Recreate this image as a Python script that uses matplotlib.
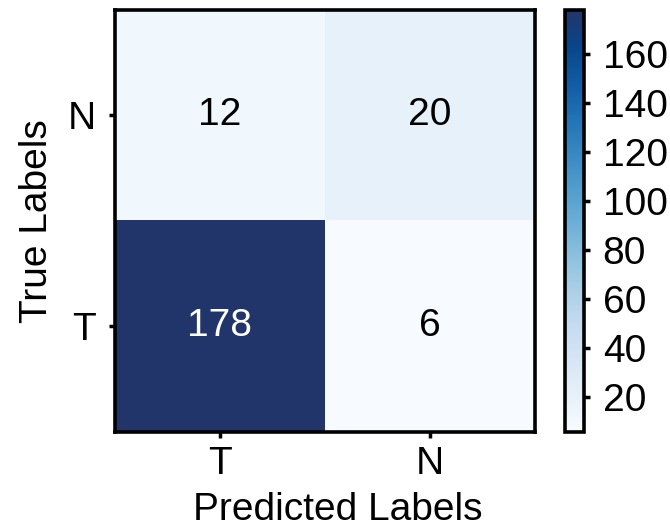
import numpy as np
import matplotlib
matplotlib.use("Agg")
import matplotlib.pyplot as plt
from matplotlib.colors import LinearSegmentedColormap

row_labels = ["N", "T"]
col_labels = ["T", "N"]
values = np.array([[12, 20],
                   [178, 6]])
cbar_ticks = [20, 40, 60, 80, 100, 120, 140, 160]

plt.rcParams['font.family'] = ['Liberation Sans', 'DejaVu Sans']
FS = 28

base = plt.get_cmap('Blues')
cols = [base(x) for x in np.linspace(0, 0.92, 12)] + ['#22356a']
cmap = LinearSegmentedColormap.from_list('navyblues', cols)

W, H = 670, 525
fig = plt.figure(figsize=(W/100, H/100), dpi=100)
ax = fig.add_axes([115/W, 1-431.5/H, 420/W, 421.5/H])
cax = fig.add_axes([565/W, 1-431.5/H, 19/W, 421.5/H])

im = ax.imshow(values, cmap=cmap, vmin=values.min(), vmax=values.max(), aspect='auto')
thr = (values.max() + values.min()) / 2
for i in range(values.shape[0]):
    for j in range(values.shape[1]):
        v = values[i, j]
        ax.text(j, i, str(v), ha='center', va='center', fontsize=FS,
                color='white' if v > thr else 'black')

ax.set_xticks(range(len(col_labels)))
ax.set_xticklabels(col_labels, fontsize=FS)
ax.set_yticks(range(len(row_labels)))
ax.set_yticklabels(row_labels, fontsize=FS)
ax.set_xlabel('Predicted Labels', fontsize=FS)
ax.set_ylabel('True Labels', fontsize=FS)
ax.xaxis.set_label_coords((337.5-115)/420, (431.5-520)/421.5)
ax.xaxis.label.set_va('baseline')
ax.yaxis.set_label_coords((47-115)/420, 0.5)
ax.yaxis.label.set_va('baseline')
ax.tick_params(length=4, width=2.5, pad=6.5)
ax.tick_params(axis='y', pad=9.5)
for s in ax.spines.values():
    s.set_linewidth(2.6)

cb = fig.colorbar(im, cax=cax)
cb.set_ticks(cbar_ticks)
cb.ax.tick_params(labelsize=FS, length=4, width=2.5, pad=9.5)
cb.outline.set_linewidth(2.6)

fig.savefig('out.png', dpi=100)
